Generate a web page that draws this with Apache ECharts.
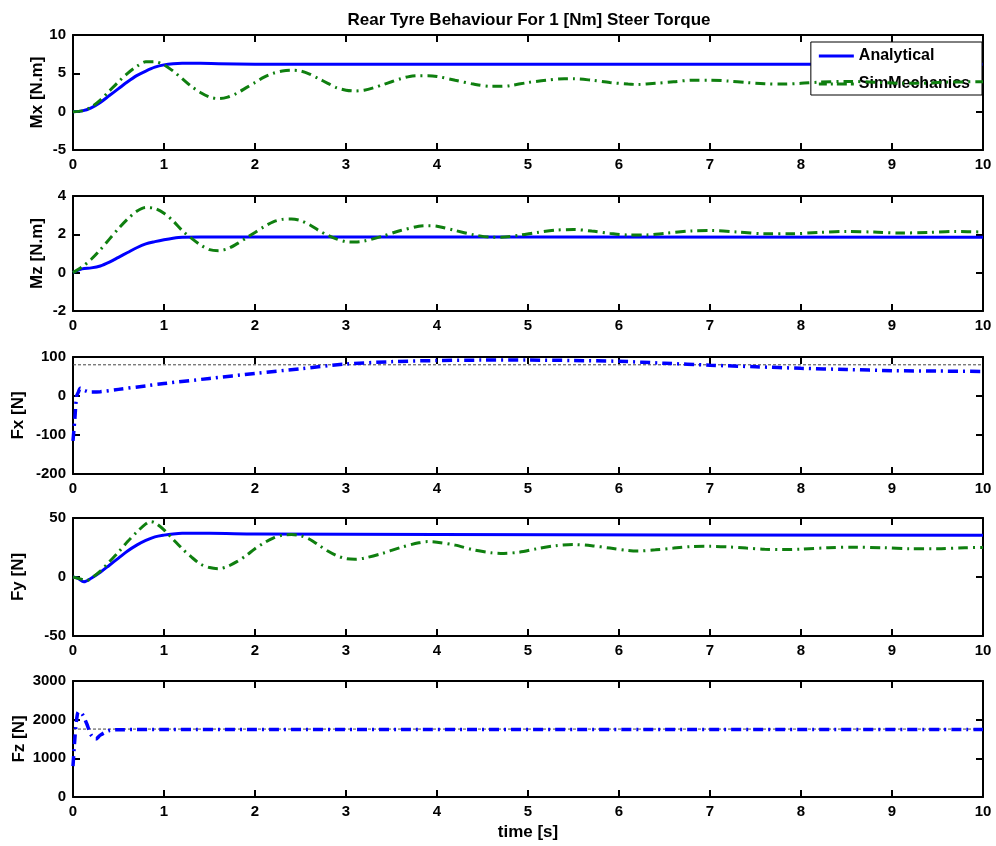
<!DOCTYPE html>
<html><head><meta charset="utf-8">
<script src="https://cdn.jsdelivr.net/npm/echarts@6/dist/echarts.min.js"></script>
<style>html,body{margin:0;padding:0;background:#fff}#c{width:996px;height:846px}</style>
</head><body><div id="c"></div>
<script>
// ---------- DATA ----------
const chartTitle = 'Rear Tyre Behaviour For 1 [Nm] Steer Torque';
const yNames = ['Mx [N.m]', 'Mz [N.m]', 'Fx [N]', 'Fy [N]', 'Fz [N]'];
const yMin = [-5, -2, -200, -50, 0];
const yMax = [10, 4, 100, 50, 3000];
const yStep = [5, 2, 100, 50, 1000];
const xTickLabels = ['0','1','2','3','4','5','6','7','8','9','10'];

// Mx
const tMxA = [0,0.1,0.2,0.3,0.4,0.5,0.6,0.7,0.8,0.9,1.0,1.1,1.2,1.4,1.6,2.0,10];
const mxA  = [0,0.1,0.5,1.2,2.1,3.0,3.9,4.7,5.3,5.8,6.1,6.25,6.3,6.3,6.25,6.2,6.2];
const tMxS = [0,0.1,0.2,0.3,0.4,0.5,0.6,0.7,0.8,0.9,1.0,1.1,1.2,1.3,1.4,1.5,1.6,1.7,1.8,1.9,2.0,2.1,2.2,2.3,2.4,2.5,2.6,2.7,2.8,2.9,3.0,3.1,3.2,3.3,3.4,3.5,3.6,3.7,3.8,3.9,4.0,4.2,4.4,4.6,4.7,4.8,5.0,5.2,5.4,5.5,5.7,5.9,6.1,6.2,6.4,6.6,6.8,7.0,7.2,7.4,7.6,7.8,8.0,8.2,8.5,8.8,9.1,9.3,9.6,10];
const mxS  = [0,0.1,0.6,1.5,2.7,3.9,5.0,5.9,6.5,6.5,6.1,5.3,4.3,3.3,2.5,1.9,1.7,1.9,2.4,3.1,3.8,4.5,5.0,5.3,5.4,5.3,4.9,4.3,3.7,3.1,2.8,2.7,2.8,3.1,3.5,3.9,4.3,4.6,4.7,4.7,4.6,4.1,3.6,3.3,3.3,3.4,3.8,4.1,4.3,4.3,4.1,3.8,3.6,3.55,3.7,3.9,4.1,4.1,4.0,3.8,3.65,3.6,3.7,3.85,3.95,3.85,3.7,3.7,3.85,3.9];

// Mz
const tMzA = [0,0.1,0.2,0.3,0.4,0.5,0.6,0.7,0.8,0.9,1.0,1.1,1.2,1.4,10];
const mzA  = [0,0.2,0.25,0.35,0.55,0.8,1.05,1.3,1.5,1.62,1.72,1.8,1.85,1.86,1.85];
const tMzS = [0,0.1,0.2,0.3,0.4,0.5,0.6,0.7,0.8,0.9,1.0,1.1,1.2,1.3,1.4,1.5,1.6,1.7,1.8,1.9,2.0,2.1,2.2,2.3,2.4,2.5,2.6,2.7,2.8,2.9,3.0,3.1,3.2,3.4,3.6,3.8,3.9,4.0,4.2,4.4,4.6,4.7,4.9,5.1,5.3,5.5,5.7,5.9,6.1,6.3,6.5,6.8,7.0,7.3,7.6,7.9,8.2,8.5,8.8,9.1,9.4,9.7,10];
const mzS  = [0,0.3,0.7,1.2,1.75,2.3,2.8,3.2,3.4,3.35,3.1,2.7,2.2,1.8,1.45,1.2,1.15,1.25,1.5,1.8,2.1,2.4,2.65,2.78,2.8,2.72,2.5,2.2,1.95,1.75,1.62,1.6,1.65,1.9,2.2,2.42,2.45,2.42,2.2,1.98,1.85,1.85,1.95,2.1,2.22,2.25,2.17,2.05,1.97,1.97,2.05,2.18,2.2,2.12,2.03,2.03,2.1,2.15,2.12,2.07,2.1,2.15,2.12];

// Fx
const tFxR = [0,10];
const fxR  = [80,80];
const tFxS = [0,0.02,0.04,0.06,0.08,0.12,0.2,0.3,0.5,0.8,1.0,1.5,2.0,2.5,3.0,3.5,4.0,4.5,5.0,5.5,6.0,6.5,7.0,7.5,8.0,8.5,9.0,9.5,10];
const fxS  = [-115,-60,0,10,20,15,10,11,17,26,32,45,58,70,82,88,91,92,92,91,89,84,79,75,71,68,65,64,63];

// Fy
const tFyA = [0,0.05,0.12,0.2,0.3,0.4,0.5,0.6,0.7,0.8,0.9,1.0,1.1,1.2,1.5,2.0,4.0,10];
const fyA  = [0,-1,-4,-1,4,10,16,22,27,31,34,35.5,36.5,37,37,36.5,36,35.3];
const tFyS = [0,0.1,0.15,0.2,0.3,0.4,0.5,0.6,0.7,0.8,0.85,0.9,1.0,1.1,1.2,1.3,1.4,1.5,1.6,1.7,1.8,1.9,2.0,2.1,2.2,2.3,2.4,2.5,2.6,2.7,2.8,2.9,3.0,3.1,3.2,3.4,3.6,3.8,3.9,4.0,4.2,4.4,4.6,4.7,4.9,5.1,5.3,5.5,5.7,5.9,6.1,6.2,6.4,6.6,6.8,7.0,7.2,7.4,7.6,7.8,8.0,8.3,8.6,8.9,9.2,9.5,9.8,10];
const fyS  = [0,-2,-3,-1,5,13,21,30,38,45,47,46,40,32,24,17,11,8,7,9,13,18,24,29,33,35.5,36,35,32,27,22,18,15.5,15,16,20,25,29,30,29.5,27,23,20.5,20,21,24,26.5,27.5,26.5,24.5,22.5,22,23,24.5,25.8,26,25.5,24.5,23.5,23.2,23.6,24.8,25.3,24.8,24,24,24.8,25];

// Fz
const tFzR = [0,10];
const fzR  = [1757,1757];
const tFzS = [0,0.02,0.04,0.06,0.1,0.15,0.2,0.25,0.3,0.4,0.5,1.0,10];
const fzS  = [800,1500,2000,2200,2150,1900,1600,1500,1600,1720,1740,1745,1745];

// ---------- LAYOUT ----------
const gridTops = [35, 196, 357, 518, 681];
const gridHeights = [115, 115, 117, 118, 116];
const nameGaps = [27, 27, 46, 46, 45];
const FONT = 'Liberation Sans, Arial, sans-serif';
const BLUE = '#0000ff';
const GREEN = '#0f7f0f';

const zip = (t, v) => t.map((x, i) => [x, v[i]]);

const grids = [], xAxes = [], yAxes = [];
for (let i = 0; i < 5; i++) {
  grids.push({ left: 73, right: 13, top: gridTops[i], height: gridHeights[i], outerBoundsMode: 'none', containLabel: false });
  const xBase = {
    gridIndex: i, type: 'value', min: 0, max: 10, interval: 1,
    axisLine: { show: true, onZero: false, lineStyle: { color: '#000', width: 2 } },
    axisTick: { show: true, inside: true, length: 7, lineStyle: { color: '#000', width: 2 } },
    splitLine: { show: false }
  };
  xAxes.push(Object.assign({}, xBase, {
    position: 'bottom',
    axisLabel: { show: true, color: '#000', fontFamily: FONT, fontWeight: 'bold', fontSize: 15, margin: 7,
      formatter: v => xTickLabels[Math.round(v)] },
    name: i === 4 ? 'time [s]' : '', nameLocation: 'middle', nameGap: 27, nameMoveOverlap: false,
    nameTextStyle: { color: '#000', fontFamily: FONT, fontWeight: 'bold', fontSize: 17 }
  }));
  xAxes.push(Object.assign({}, xBase, { position: 'top', axisLabel: { show: false } }));
  const yBase = {
    gridIndex: i, type: 'value', min: yMin[i], max: yMax[i], interval: yStep[i],
    axisLine: { show: true, onZero: false, lineStyle: { color: '#000', width: 2 } },
    axisTick: { show: true, inside: true, length: 7, lineStyle: { color: '#000', width: 2 } },
    splitLine: { show: false }
  };
  yAxes.push(Object.assign({}, yBase, {
    position: 'left',
    axisLabel: { show: true, color: '#000', fontFamily: FONT, fontWeight: 'bold', fontSize: 15, margin: 7,
      formatter: v => String(v) },
    name: yNames[i], nameLocation: 'middle', nameGap: nameGaps[i], nameRotate: 90, nameMoveOverlap: false,
    nameTextStyle: { color: '#000', fontFamily: FONT, fontWeight: 'bold', fontSize: 17 }
  }));
  yAxes.push(Object.assign({}, yBase, { position: 'right', axisLabel: { show: false } }));
}

const solid = (name, data, gi) => ({
  name, type: 'line', xAxisIndex: gi * 2, yAxisIndex: gi * 2, data, smooth: 0.3,
  showSymbol: false, symbol: 'none', lineStyle: { color: BLUE, width: 3 }, itemStyle: { color: BLUE }, z: 3
});
const dashdot = (name, data, gi, color, w) => ({
  name, type: 'line', xAxisIndex: gi * 2, yAxisIndex: gi * 2, data, smooth: 0.3,
  showSymbol: false, symbol: 'none',
  lineStyle: { color, width: w, type: [10, 5, 2, 5] }, itemStyle: { color }, z: 4
});
const thin = (name, data, gi) => ({
  name, type: 'line', xAxisIndex: gi * 2, yAxisIndex: gi * 2, data,
  showSymbol: false, symbol: 'none',
  lineStyle: { color: '#444', width: 1, type: [3, 2] }, itemStyle: { color: '#444' }, z: 2
});

const series = [
  solid('Analytical', zip(tMxA, mxA), 0),
  dashdot('SimMechanics', zip(tMxS, mxS), 0, GREEN, 3),
  solid('Analytical', zip(tMzA, mzA), 1),
  dashdot('SimMechanics', zip(tMzS, mzS), 1, GREEN, 3),
  thin('Fx analytical', zip(tFxR, fxR), 2),
  dashdot('Fx SimMechanics', zip(tFxS, fxS), 2, BLUE, 3.5),
  solid('Analytical', zip(tFyA, fyA), 3),
  dashdot('SimMechanics', zip(tFyS, fyS), 3, GREEN, 3),
  thin('Fz analytical', zip(tFzR, fzR), 4),
  dashdot('Fz SimMechanics', zip(tFzS, fzS), 4, BLUE, 3.5)
];

const iconSolid = 'path://M0,0h35v3h-35z';
const iconDashDot = 'path://M0,0h8v3h-8z M12,0h2v3h-2z M18,0h10v3h-10z M32,0h3v3h-3z';

const chart = echarts.init(document.getElementById('c'), null, { renderer: 'canvas' });
chart.setOption({
  animation: false,
  backgroundColor: '#fff',
  title: { text: chartTitle, left: 524, textAlign: 'center', top: 7,
    textStyle: { color: '#000', fontFamily: FONT, fontWeight: 'bold', fontSize: 17 } },
  legend: {
    data: [{ name: 'Analytical', icon: iconSolid }, { name: 'SimMechanics', icon: iconDashDot }],
    orient: 'vertical', right: 14, top: 42,
    itemWidth: 35, itemHeight: 14, itemGap: 12,
    backgroundColor: '#fff', borderColor: '#000', borderWidth: 1, borderRadius: 0,
    padding: [6, 12, 3, 8],
    textStyle: { color: '#000', fontFamily: FONT, fontWeight: 'bold', fontSize: 16 }
  },
  grid: grids, xAxis: xAxes, yAxis: yAxes, series
});
</script></body></html>
